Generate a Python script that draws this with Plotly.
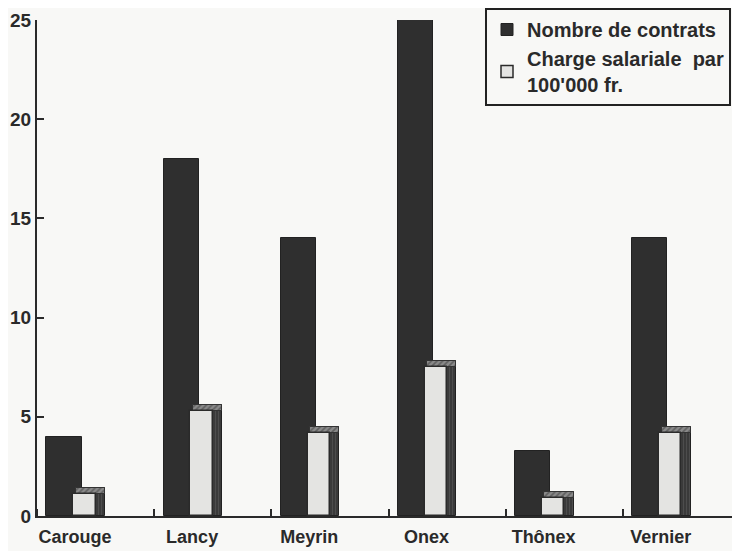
import plotly.graph_objects as go

categories = ["Carouge", "Lancy", "Meyrin", "Onex", "Thônex", "Vernier"]
contrats = [4, 18, 14, 25, 3.3, 14]
charge = [1.1, 5.3, 4.2, 7.5, 0.9, 4.2]
yticks = [0, 5, 10, 15, 20, 25]

idx = list(range(len(categories)))
DARK = "#2f2f2f"
LIGHT = "#e4e4e2"
BG = "#f8f8f6"
FAM = "Liberation Sans, Arial, sans-serif"
XFONT = dict(family=FAM, size=18, color="#2a2a2a", weight="bold")
YFONT = dict(family=FAM, size=19, color="#2a2a2a", weight="bold")

fig = go.Figure()
fig.add_trace(go.Bar(
    x=[i + 0.23 for i in idx], y=contrats, width=0.30,
    marker=dict(color=DARK, line=dict(color="#222", width=1)),
    name="Nombre de contrats", legendgroup="a", showlegend=True,
))
# side face of light bars
fig.add_trace(go.Bar(
    x=[i + 0.54 for i in idx], y=[v + 0.3 for v in charge], width=0.08,
    marker=dict(color="#3a3a3a", line=dict(color="#222", width=1),
                pattern=dict(shape="|", fgcolor="#777", size=3, solidity=0.2)),
    showlegend=False, hoverinfo="skip",
))
# top face of light bars
fig.add_trace(go.Bar(
    x=[i + 0.455 for i in idx], y=[0.3] * len(idx), base=charge, width=0.25,
    marker=dict(color="#8a8a8a", line=dict(color="#333", width=1),
                pattern=dict(shape="/", fgcolor="#333", size=4, solidity=0.4)),
    showlegend=False, hoverinfo="skip",
))
fig.add_trace(go.Bar(
    x=[i + 0.405 for i in idx], y=charge, width=0.19,
    marker=dict(color=LIGHT, line=dict(color="#2a2a2a", width=1.5)),
    name="Charge salariale  par<br>100'000 fr.", legendgroup="b", showlegend=True,
))

fig.update_layout(
    width=740, height=551,
    margin=dict(l=29, r=8, t=12, b=43, autoexpand=False),
    paper_bgcolor=BG, plot_bgcolor=BG,
    barmode="overlay", bargap=0,
    font=XFONT,
    showlegend=True,
    legend=dict(
        xref="container", yref="container",
        x=477 / 740, y=1 + 5 / 551, xanchor="left", yanchor="top",
        bordercolor="#222", borderwidth=2, bgcolor=BG,
        font=dict(family=FAM, size=20, color="#2a2a2a", weight="bold"),
        tracegroupgap=18, traceorder="normal", itemwidth=30,
    ),
    xaxis=dict(
        range=[0, 6], tickmode="array", automargin=False,
        tickvals=[i + 0.324 for i in idx], ticktext=categories,
        ticks="", showgrid=False, zeroline=False,
        showline=True, linecolor="#2a2a2a", linewidth=2,
        tickfont=XFONT, ticklabelstandoff=3,
        minor=dict(tickmode="linear", tick0=0, dtick=1, ticks="inside", ticklen=7,
                   tickwidth=2, tickcolor="#2a2a2a", showgrid=False),
    ),
    yaxis=dict(
        range=[0, 25], tickmode="array", tickvals=yticks, automargin=False,
        ticks="inside", ticklen=7, tickwidth=2, tickcolor="#2a2a2a",
        showgrid=False, zeroline=False,
        showline=True, linecolor="#2a2a2a", linewidth=2,
        tickfont=YFONT,
    ),
)

fig.write_html("out.html")
